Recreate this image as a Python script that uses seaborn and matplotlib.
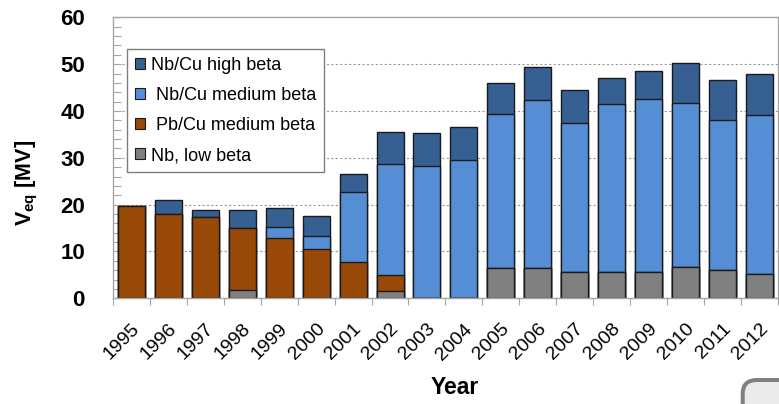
import numpy as np
import pandas as pd
import matplotlib
matplotlib.use("Agg")
import matplotlib.pyplot as plt
import seaborn as sns
from matplotlib.patches import Patch, FancyBboxPatch
from matplotlib.ticker import MultipleLocator, FixedLocator, NullFormatter
from matplotlib.transforms import IdentityTransform

# Installed accelerating voltage per year, split by cavity type [MV]
years = [str(y) for y in range(1995, 2013)]
nb_low_beta = [0, 0, 0, 1.8, 0, 0, 0, 1.5, 0, 0, 6.4, 6.4, 5.7, 5.7, 5.7, 6.6, 6.0, 5.2]
pbcu_medium_beta = [19.8, 17.9, 17.3, 13.2, 12.9, 10.6, 7.7, 3.4, 0, 0, 0, 0, 0, 0, 0, 0, 0, 0]
nbcu_medium_beta = [0, 0, 0, 0, 2.3, 2.7, 15.0, 23.7, 28.3, 29.6, 32.9, 36.0, 31.7, 35.7, 36.8, 35.1, 32.0, 33.9]
nbcu_high_beta = [0, 3.0, 1.6, 3.9, 4.1, 4.3, 3.9, 6.9, 6.9, 7.0, 6.6, 7.1, 7.1, 5.6, 6.0, 8.6, 8.7, 8.9]

series_labels = ["Nb, low beta", " Pb/Cu medium beta", " Nb/Cu medium beta", "Nb/Cu high beta"]
series_colors = ["#808080", "#984807", "#558ed5", "#376092"]

df = pd.DataFrame({
    "year": years,
    "low": nb_low_beta,
    "pb": pbcu_medium_beta,
    "med": nbcu_medium_beta,
    "high": nbcu_high_beta,
})
# cumulative heights for stacking
df["c_low"] = df["low"]
df["c_pb"] = df["c_low"] + df["pb"]
df["c_med"] = df["c_pb"] + df["med"]
df["c_high"] = df["c_med"] + df["high"]

sns.set_theme(style="white")
plt.rcParams["font.family"] = ["Liberation Sans", "DejaVu Sans"]
plt.rcParams["mathtext.fontset"] = "custom"
plt.rcParams["mathtext.bf"] = "Liberation Sans:bold"
plt.rcParams["mathtext.rm"] = "Liberation Sans"

fig = plt.figure(figsize=(7.79, 4.04), dpi=100)
ax = fig.add_axes([0.1447, 0.2616, 0.8543, 0.6955])

grid_color = "#a6a6a6"
ax.set_axisbelow(True)
ax.yaxis.grid(True, linestyle=(0, (2, 2)), color="#9a9a9a", linewidth=0.8)

# draw tallest cumulative layer first so lower segments sit on top
for col, color in zip(["c_high", "c_med", "c_pb", "c_low"], series_colors[::-1]):
    sns.barplot(data=df, x="year", y=col, color=color, saturation=1, width=0.73,
                edgecolor="#1a1a1a", linewidth=1.0, ax=ax, order=years)

ax.set_ylim(0, 60)
ax.set_xlim(-0.5, len(years) - 0.5)

for side in ["left", "right", "top", "bottom"]:
    ax.spines[side].set_visible(True)
    ax.spines[side].set_color(grid_color)
    ax.spines[side].set_linewidth(1.0)

# y axis ticks
ax.yaxis.set_major_locator(MultipleLocator(10))
ax.yaxis.set_minor_locator(MultipleLocator(2))
ax.tick_params(axis="y", which="both", direction="in", length=6, width=0.8,
               color=grid_color, left=True, pad=20, labelcolor="black")
for lbl in ax.get_yticklabels():
    lbl.set_fontweight("bold")
    lbl.set_fontsize(16)

# x axis: labels at bar centres, ticks between bars
ax.xaxis.set_minor_locator(FixedLocator(np.arange(-0.5, len(years), 1.0)))
ax.xaxis.set_minor_formatter(NullFormatter())
ax.tick_params(axis="x", which="major", length=0, pad=16, labelcolor="black")
ax.tick_params(axis="x", which="minor", direction="out", length=5, width=0.8,
               color=grid_color, bottom=True)
ax.set_xticks(range(len(years)))
ax.set_xticklabels(years, rotation=45, ha="right", rotation_mode="anchor",
                   fontsize=14)

ax.set_xlabel("Year", fontsize=16.5, fontweight="bold", color="black")
ax.xaxis.label.set_va("center")
ax.xaxis.set_label_coords(0.514, -0.319)

ax.set_ylabel(r"$\mathbf{V_{eq}}$ [MV]", fontsize=15.5, fontweight="bold", color="black")
ax.yaxis.label.set_va("center")
ax.yaxis.label.set_ha("center")
ax.yaxis.set_label_coords(-0.1295, 0.41)

handles = [Patch(facecolor=c, edgecolor="#1a1a1a", linewidth=0.8)
           for c in series_colors[::-1]]
leg = ax.legend(handles, series_labels[::-1], loc="upper left",
                bbox_to_anchor=(0.0215, 0.887), borderaxespad=0,
                fontsize=13, handlelength=0.55, handleheight=0.55,
                handletextpad=0.3, labelspacing=0.72, borderpad=0.45,
                fancybox=False, framealpha=1, edgecolor="#7f7f7f")
leg.get_frame().set_linewidth(1.0)
for t in leg.get_texts():
    t.set_color("black")

# rounded panel corner at the lower right
corner = FancyBboxPatch((742.7, -40), 90, 64,
                        boxstyle="round,pad=0,rounding_size=14",
                        transform=IdentityTransform(), facecolor="#ebebeb",
                        edgecolor="#808080", linewidth=2.9, clip_on=False)
fig.add_artist(corner)

fig.savefig("out.png", dpi=100)
